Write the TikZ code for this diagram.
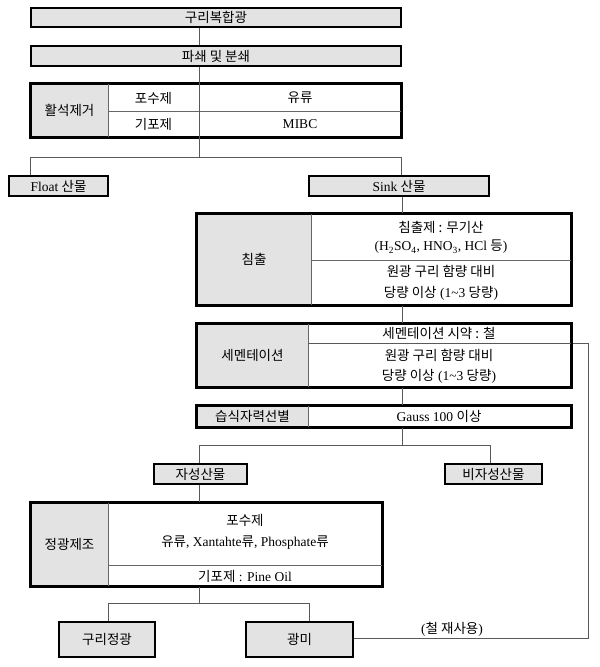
\documentclass[tikz,border=0pt]{standalone}
\usepackage{fontspec}
\setmainfont{Liberation Serif}
\newfontfamily\kr{Noto Sans CJK KR}
\begin{document}
\begin{tikzpicture}[x=1pt,y=-1pt,font=\fontsize{13.5}{15}\selectfont,
  gbox/.style={draw=black,line width=1.6pt,fill=black!11,inner sep=0pt},
  frame/.style={draw=black,line width=1.6pt,inner sep=0pt},
  cell/.style={fill=black!11,inner sep=0pt},
  thin/.style={draw=black!60,line width=0.6pt},
  conn/.style={draw=black!65,line width=0.7pt}]
\useasboundingbox (0,0) rectangle (600,667);
% top
\node[gbox,minimum width=370,minimum height=19] (top) at (216,17.5) {\kr 구리복합광};
\node[gbox,minimum width=370,minimum height=20] (crush) at (216,56) {\kr 파쇄 및 분쇄};
% talc table
\node[cell,minimum width=77,minimum height=53] (talcg) at (69.5,110.5) {\kr 활석제거};
\node[frame,minimum width=370,minimum height=53] (talc) at (216,110.5) {};
\coordinate (cA) at (108,0); \coordinate (cB) at (199,0);
\draw[thin] (talc.north -| cA) -- (talc.south -| cA);
\draw[thin] (talc.north -| cB) -- (talc.south -| cB);
\draw[thin] (108,111) -- (talc.east |- 0,111);
\node at (153.5,98) {\kr 포수제};
\node at (153.5,124) {\kr 기포제};
\node at (300,98) {\kr 유류};
\node at (300,124) {MIBC};
\draw[frame] (talc.north west) rectangle (talc.south east);
% float / sink
\node[gbox,minimum width=99,minimum height=20] (float) at (58.5,186) {Float {\kr 산물}};
\node[gbox,minimum width=180,minimum height=20] (sink) at (399,186) {Sink {\kr 산물}};
\coordinate (j1) at (199,157);
\draw[conn] (top.south -| cB) -- (crush.north -| cB);
\draw[conn] (crush.south -| cB) -- (talc.south -| cB) ;
\draw[conn] (talc.south -| cB) -- (j1);
\draw[conn] (j1) -| (float.north -| talc.west);
\draw[conn] (j1) -| (sink.north -| talc.east);
% leaching
\coordinate (cC) at (402,0);
\node[cell,minimum width=114,minimum height=91] (leachg) at (254,259.5) {\kr 침출};
\node[frame,minimum width=374,minimum height=91] (leach) at (384,259.5) {};
\draw[thin] (leach.north -| 311,0) -- (leach.south -| 311,0);
\draw[thin] (311,260) -- (leach.east |- 0,260);
\node at (441,227) {\kr 침출제 : 무기산};
\node at (441,247) {(H\textsubscript{2}SO\textsubscript{4}, HNO\textsubscript{3}, HCl {\kr 등})};
\node at (441,271) {\kr 원광 구리 함량 대비};
\node at (441,293) {{\kr 당량 이상} (1\textasciitilde 3 {\kr 당량})};
\draw[frame] (leach.north west) rectangle (leach.south east);
\draw[conn] (sink.south -| cC) -- (leach.north -| cC);
% cementation
\node[cell,minimum width=111,minimum height=63] (cemg) at (252.5,355.5) {\kr 세멘테이션};
\node[frame,minimum width=374,minimum height=63] (cem) at (384,355.5) {};
\draw[thin] (cem.north -| 308,0) -- (cem.south -| 308,0);
\coordinate (r1) at (588,343);
\draw[conn] (308,343) -- (r1);
\node at (439,333) {\kr 세멘테이션 시약 : 철};
\node at (439,355) {\kr 원광 구리 함량 대비};
\node at (439,376) {{\kr 당량 이상} (1\textasciitilde 3 {\kr 당량})};
\draw[frame] (cem.north west) rectangle (cem.south east);
\draw[conn] (leach.south -| cC) -- (cem.north -| cC);
% magnetic
\node[cell,minimum width=111,minimum height=21] (magg) at (252.5,416.5) {\kr 습식자력선별};
\node[frame,minimum width=374,minimum height=21] (mag) at (384,416.5) {};
\draw[thin] (mag.north -| 308,0) -- (mag.south -| 308,0);
\node at (439,416.5) {Gauss 100 {\kr 이상}};
\draw[frame] (mag.north west) rectangle (mag.south east);
\draw[conn] (cem.south -| cC) -- (mag.north -| cC);
\node[gbox,minimum width=93,minimum height=20] (mp) at (200.5,474) {\kr 자성산물};
\node[gbox,minimum width=97,minimum height=20] (nmp) at (493.5,474) {\kr 비자성산물};
\coordinate (j2) at (402,445);
\coordinate (cD) at (199,0);
\draw[conn] (mag.south -| cC) -- (j2);
\draw[conn] (j2) -| (mp.north -| cD);
\draw[conn] (j2) -| (nmp.north -| 490,0);
% concentrate
\node[cell,minimum width=77,minimum height=83] (conG) at (69.5,544.5) {\kr 정광제조};
\node[frame,minimum width=351,minimum height=83] (con) at (206.5,544.5) {};
\draw[thin] (con.north -| cA) -- (con.south -| cA);
\draw[thin] (108,565) -- (con.east |- 0,565);
\node at (245,520) {\kr 포수제};
\node at (245,543) {{\kr 유류}, Xantahte{\kr 류}, Phosphate{\kr 류}};
\node at (245,576) {{\kr 기포제} : Pine Oil};
\draw[frame] (con.north west) rectangle (con.south east);
\draw[conn] (mp.south -| cD) -- (con.north -| cD);
% bottom
\node[gbox,minimum width=96,minimum height=35] (cu) at (107,639.5) {\kr 구리정광};
\node[gbox,minimum width=107,minimum height=35] (tail) at (299.5,639.5) {\kr 광미};
\coordinate (j3) at (199,603);
\draw[conn] (con.south -| cD) -- (j3);
\draw[conn] (j3) -| (cu.north -| cA);
\draw[conn] (j3) -| (tail.north -| 309,0);
\coordinate (r2) at (588,638);
\draw[conn] (r1) -- (r2) -- (tail.east |- r2);
\node (reuse) at (452,629) {({\kr 철 재사용})};
\end{tikzpicture}
\end{document}
